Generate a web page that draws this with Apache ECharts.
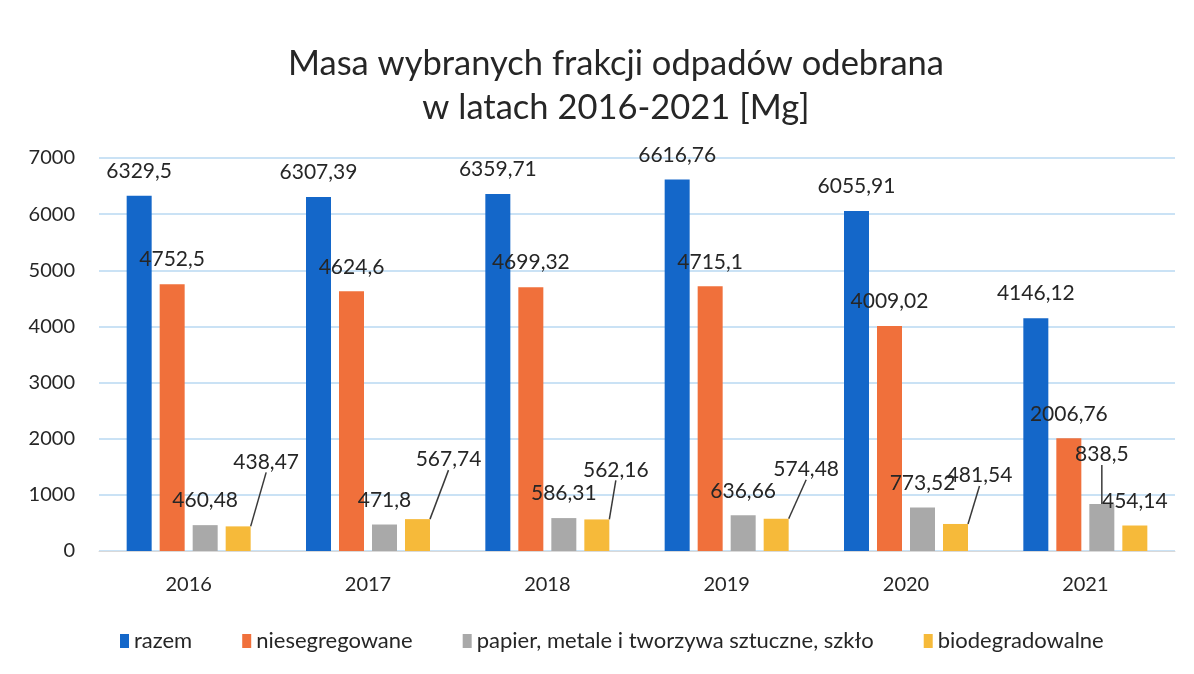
<!DOCTYPE html>
<html>
<head>
<meta charset="utf-8">
<script src="https://cdn.jsdelivr.net/npm/echarts@6/dist/echarts.min.js"></script>
<style>
  html, body { margin: 0; padding: 0; background: #ffffff; }
  #chart { width: 1194px; height: 674px; }
</style>
</head>
<body>
<div id="chart"></div>
<script>
// ---- data ----
const titleText = 'Masa wybranych frakcji odpadów odebrana\nw latach 2016-2021 [Mg]';
const years = ['2016', '2017', '2018', '2019', '2020', '2021'];
const seriesNames = ['razem', 'niesegregowane', 'papier, metale i tworzywa sztuczne, szkło', 'biodegradowalne'];
const razem = [6329.5, 6307.39, 6359.71, 6616.76, 6055.91, 4146.12];
const niesegregowane = [4752.5, 4624.6, 4699.32, 4715.1, 4009.02, 2006.76];
const papier = [460.48, 471.8, 586.31, 636.66, 773.52, 838.5];
const biodegradowalne = [438.47, 567.74, 562.16, 574.48, 481.54, 454.14];
const yTicks = { min: 0, max: 7000, interval: 1000 };

// ---- label placement (moved labels get a leader line) ----
const labelShift = {
  2: { 5: [0, -25] },
  3: { 0: [28, -40], 1: [31, -35], 2: [19, -25], 3: [30, -25], 4: [24, -24] }
};

const colors = ['#1467c9', '#f0703b', '#a9a9a9', '#f6ba3a'];
const FONT = 'Lato';
const valueSets = [razem, niesegregowane, papier, biodegradowalne];

function fmt(v) { return String(v).replace('.', ','); }

const series = valueSets.map((vals, si) => ({
  name: seriesNames[si],
  type: 'bar',
  barWidth: 25,
  barGap: '32%',
  itemStyle: { color: colors[si] },
  label: {
    show: true,
    position: 'top',
    distance: 14,
    fontFamily: FONT,
    fontSize: 21,
    color: '#262626',
    formatter: p => fmt(p.value)
  },
  labelLine: { show: false, lineStyle: { color: '#3a3a3a', width: 1.5 } },
  labelLayout: function (params) {
    const m = labelShift[si];
    if (m && m[params.dataIndex]) {
      return { dx: m[params.dataIndex][0], dy: m[params.dataIndex][1] };
    }
    return {};
  },
  data: vals.map((v, i) => ({
    value: v,
    labelLine: { show: !!(labelShift[si] && labelShift[si][i]) }
  }))
}));

const chart = echarts.init(document.getElementById('chart'), null, { renderer: 'canvas' });
chart.setOption({
  animation: false,
  backgroundColor: '#ffffff',
  title: {
    text: titleText,
    left: 611,
    top: 37,
    textAlign: 'center',
    textStyle: {
      fontFamily: FONT,
      fontSize: 34.5,
      fontWeight: 'normal',
      color: '#262626',
      lineHeight: 44
    }
  },
  legend: {
    bottom: 17,
    left: 115,
    itemWidth: 9,
    itemHeight: 14,
    itemGap: 50,
    icon: 'rect',
    textStyle: { fontFamily: FONT, fontSize: 22, color: '#262626' },
    data: seriesNames
  },
  grid: { left: 99, right: 19, top: 158, bottom: 123, containLabel: false },
  xAxis: {
    type: 'category',
    data: years,
    axisTick: { show: false },
    axisLine: { lineStyle: { color: '#d9d9d9', width: 1 } },
    axisLabel: { fontFamily: FONT, fontSize: 20, color: '#262626', margin: 24 }
  },
  yAxis: {
    type: 'value',
    min: yTicks.min,
    max: yTicks.max,
    interval: yTicks.interval,
    axisLine: { show: false },
    axisTick: { show: false },
    axisLabel: { fontFamily: FONT, fontSize: 20, color: '#262626', margin: 24, formatter: v => String(v) },
    splitLine: { lineStyle: { color: '#b8d8f2', width: 1.5 } }
  },
  series: series
});
</script>
</body>
</html>
